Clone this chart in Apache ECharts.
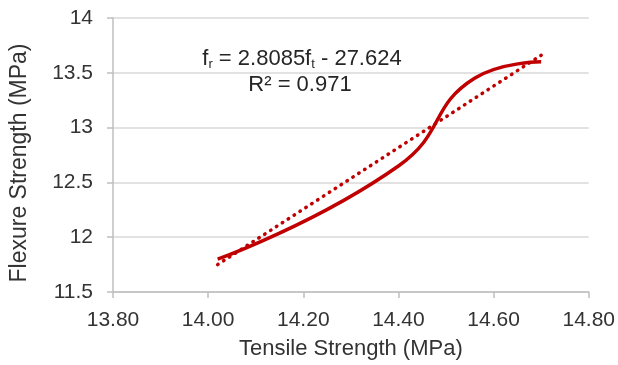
<!DOCTYPE html>
<html>
<head>
<meta charset="utf-8">
<script src="https://cdn.jsdelivr.net/npm/echarts@6/dist/echarts.min.js"></script>
<style>
html,body{margin:0;padding:0;background:#fff;}
#c{width:618px;height:365px;}
</style>
</head>
<body>
<div id="c"></div>
<script>
// Data
const tensile = [14.02, 14.40, 14.56, 14.70];
const flexure = [11.80, 12.65, 13.45, 13.60];
const trendX = [14.02, 14.70];
const trendY = [11.75, 13.66];
const xTicks = [13.80, 14.00, 14.20, 14.40, 14.60, 14.80];
const yTicks = [11.5, 12, 12.5, 13, 13.5, 14];
const equationText = ['f', 'r', ' = 2.8085f', 't', ' - 27.624'];
const r2Text = 'R² = 0.971';

const dataPts = tensile.map((x, i) => [x, flexure[i]]);
const trendPts = trendX.map((x, i) => [x, trendY[i]]);

const chart = echarts.init(document.getElementById('c'), null, {renderer: 'canvas'});
const font = 'Liberation Sans, Arial, sans-serif';
const txt = '#333333';
chart.setOption({
  animation: false,
  backgroundColor: '#ffffff',
  grid: {left: 111, right: 29, top: 18, bottom: 70},
  xAxis: {
    type: 'value', min: xTicks[0], max: xTicks[xTicks.length - 1], interval: 0.2,
    name: 'Tensile Strength (MPa)', nameLocation: 'middle', nameGap: 46,
    nameTextStyle: {fontFamily: font, fontSize: 22, color: txt},
    axisLine: {show: true, lineStyle: {color: '#bfbfbf', width: 1.5}},
    axisTick: {show: true, length: 6, lineStyle: {color: '#bfbfbf', width: 1.5}},
    axisLabel: {fontFamily: font, fontSize: 21, color: txt, margin: 18,
      formatter: v => v.toFixed(2)},
    splitLine: {show: false}
  },
  yAxis: {
    type: 'value', min: yTicks[0], max: yTicks[yTicks.length - 1], interval: 0.5,
    name: 'Flexure Strength (MPa)', nameLocation: 'middle', nameGap: 82,
    nameTextStyle: {fontFamily: font, fontSize: 23, color: txt, padding: [0, 0, 0, -16]},
    axisLine: {show: true, lineStyle: {color: '#bfbfbf', width: 1.5}},
    axisTick: {show: true, length: 6, lineStyle: {color: '#bfbfbf', width: 1.5}},
    axisLabel: {fontFamily: font, fontSize: 21, color: txt, margin: 20,
      formatter: v => String(v)},
    splitLine: {show: true, lineStyle: {color: '#d9d9d9', width: 1.5}}
  },
  series: [
    {
      type: 'line', data: trendPts, symbol: 'none', z: 2,
      lineStyle: {color: '#c00000', width: 3.5, type: [0.5, 6.5], cap: 'round'}
    },
    {
      type: 'line', data: dataPts, symbol: 'none', smooth: 0.5, z: 3,
      lineStyle: {color: '#c00000', width: 3.5}
    }
  ],
  graphic: [
    {
      type: 'text', x: 302, y: 46, z: 10,
      style: {
        align: 'center',
        rich: {
          n: {fontFamily: font, fontSize: 22, fill: '#262626'},
          s: {fontFamily: font, fontSize: 13, fill: '#262626', padding: [12, 0, 0, 0]}
        },
        text: '{n|' + equationText[0] + '}{s|' + equationText[1] + '}{n|' + equationText[2] + '}{s|' + equationText[3] + '}{n|' + equationText[4] + '}'
      }
    },
    {
      type: 'text', x: 300, y: 74, z: 10,
      style: {text: r2Text, align: 'center', fontFamily: font, fontSize: 22, fill: '#262626'}
    }
  ]
});
</script>
</body>
</html>
